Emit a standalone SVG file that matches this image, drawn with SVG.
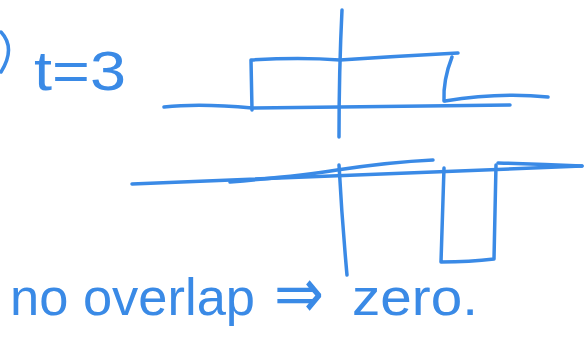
<svg xmlns="http://www.w3.org/2000/svg" width="588" height="350" viewBox="0 0 588 350">
<style>
.s{fill:none;stroke:#3a8ae6;stroke-width:3.5;stroke-linecap:round;stroke-linejoin:round}
.t{fill:#3a8ae6;font-family:"Liberation Sans","DejaVu Sans",sans-serif}
</style>
<rect width="588" height="350" fill="#ffffff"/>
<path class="s" d="M1,32 Q16,48 1,72"/>
<text class="t" x="34" y="90" font-size="56" textLength="92" lengthAdjust="spacingAndGlyphs">t=3</text>
<g id="top-diagram">
<path class="s" d="M342,10 Q339,70 339,137"/>
<path class="s" d="M252,110 L251,60 Q300,57 340,60 Q400,56 458,53"/>
<path class="s" d="M452,57 Q443,80 444,101"/>
<path class="s" d="M164,107 Q200,103 252,108 Q400,106 510,105"/>
<path class="s" d="M445,101 Q500,92 548,97"/>
</g>
<g id="bottom-diagram">
<path class="s" d="M132,184 Q300,178 582,166"/>
<path class="s" d="M230,182 Q300,176 337,170 Q390,162 433,160"/>
<path class="s" d="M339,165 Q342,220 347,275"/>
<path class="s" d="M444,168 L441,262 Q470,262 494,259 L496,165"/>
<path class="s" d="M498,163 Q540,164 582,166"/>
</g>
<text class="t" x="10" y="315" font-size="52" textLength="245" lengthAdjust="spacingAndGlyphs">no overlap</text>
<text class="t" x="274" y="318" font-size="72" textLength="50" lengthAdjust="spacingAndGlyphs">⇒</text>
<text class="t" x="352" y="315" font-size="52" textLength="126" lengthAdjust="spacingAndGlyphs">zero.</text>
</svg>
